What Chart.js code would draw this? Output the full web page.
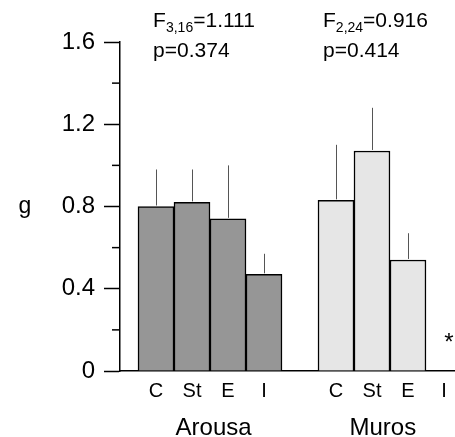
<!DOCTYPE html>
<html>
<head>
<meta charset="utf-8">
<script src="https://cdn.jsdelivr.net/npm/chart.js@4/dist/chart.umd.min.js"></script>
<style>
    html, body { margin: 0; padding: 0; background: #fff; }
</style>
</head>
<body>
<canvas id="chart" width="455" height="437"></canvas>
<script>
// Dati del grafico
const categories = ['C', 'St', 'E', 'I'];
const arousaX = [0, 1, 2, 3];
const murosX = [5, 6, 7, 8];
const arousaMean = [0.80, 0.82, 0.74, 0.47];
const arousaSE = [0.18, 0.16, 0.26, 0.10];
const murosMean = [0.83, 1.07, 0.54, null];
const murosSE = [0.27, 0.21, 0.13, null];
const yTicks = [0, 0.2, 0.4, 0.6, 0.8, 1.0, 1.2, 1.4, 1.6];
const yMajor = [0, 0.4, 0.8, 1.2, 1.6];
const xTicks = [-1, 0, 1, 2, 3, 4, 5, 6, 7, 8];

// Testi
const groupNames = ['Arousa', 'Muros'];
const groupX = [1.6, 6.3];
const statSub = ['3,16', '2,24'];
const statF = ['=1.111', '=0.916'];
const statP = ['p=0.374', 'p=0.414'];
const statX = [-0.08, 4.64];
const starX = 8.14;

const FONT = '"Liberation Sans", Arial, sans-serif';

function isMajor(v) {
    return yMajor.some(m => Math.abs(m - v) < 1e-6);
}

// Etichette asse x
function xLabel(v) {
    let i = arousaX.indexOf(v);
    if (i >= 0) return categories[i];
    i = murosX.indexOf(v);
    if (i >= 0) return categories[i];
    return '';
}

// Plugin per barre d'errore, tacche minori e testi
const extrasPlugin = {
    id: 'extras',
    afterDatasetsDraw(chart) {
        const ctx = chart.ctx;
        const xs = chart.scales.x;
        const ys = chart.scales.y;
        const area = chart.chartArea;
        const seList = [arousaSE, murosSE];
        const meanList = [arousaMean, murosMean];

        ctx.save();
        // Barre d'errore
        ctx.strokeStyle = '#555';
        ctx.lineWidth = 1;
        chart.data.datasets.forEach((ds, di) => {
            const meta = chart.getDatasetMeta(di);
            meta.data.forEach((bar, i) => {
                const m = meanList[di][i];
                const se = seList[di][i];
                if (m === null || se === null) return;
                const top = ys.getPixelForValue(m + se);
                ctx.beginPath();
                ctx.moveTo(Math.round(bar.x) + 0.5, bar.y - 1);
                ctx.lineTo(Math.round(bar.x) + 0.5, top);
                ctx.stroke();
            });
        });

        // Tacche minori asse y
        ctx.strokeStyle = '#000';
        ctx.lineWidth = 1.5;
        yTicks.filter(v => !isMajor(v)).forEach(v => {
            const y = ys.getPixelForValue(v);
            ctx.beginPath();
            ctx.moveTo(area.left - 8, y);
            ctx.lineTo(area.left, y);
            ctx.stroke();
        });

        ctx.fillStyle = '#000';
        // Nome asse y
        ctx.font = '23px ' + FONT;
        ctx.textAlign = 'center';
        ctx.textBaseline = 'middle';
        ctx.fillText('g', 25, ys.getPixelForValue(0.8));

        // Nomi dei gruppi
        ctx.font = '24px ' + FONT;
        ctx.textBaseline = 'alphabetic';
        groupNames.forEach((name, i) => {
            ctx.fillText(name, xs.getPixelForValue(groupX[i]), area.bottom + 64);
        });

        // Statistiche F e p
        ctx.textAlign = 'left';
        statF.forEach((txt, i) => {
            let x = xs.getPixelForValue(statX[i]);
            const yF = area.top - 15;
            ctx.font = '21px ' + FONT;
            ctx.fillText('F', x, yF);
            x += ctx.measureText('F').width;
            ctx.font = '14px ' + FONT;
            ctx.fillText(statSub[i], x, yF + 5);
            x += ctx.measureText(statSub[i]).width;
            ctx.font = '21px ' + FONT;
            ctx.fillText(txt, x, yF);
            ctx.fillText(statP[i], xs.getPixelForValue(statX[i]), area.top + 15);
        });

        // Asterisco
        ctx.font = '24px ' + FONT;
        ctx.textAlign = 'center';
        ctx.fillText('*', xs.getPixelForValue(starX), ys.getPixelForValue(0) - 21);
        ctx.restore();
    }
};

const chart = new Chart(document.getElementById('chart'), {
    type: 'bar',
    data: {
        datasets: [{
            label: 'Arousa',
            data: arousaX.map((x, i) => ({ x: x, y: arousaMean[i] })),
            backgroundColor: '#969696',
            borderColor: '#000',
            borderWidth: 1.5,
            grouped: false,
            barPercentage: 1,
            categoryPercentage: 1
        }, {
            label: 'Muros',
            data: murosX.map((x, i) => ({ x: x, y: murosMean[i] })),
            backgroundColor: '#e6e6e6',
            borderColor: '#000',
            borderWidth: 1.5,
            grouped: false,
            barPercentage: 1,
            categoryPercentage: 1
        }]
    },
    options: {
        responsive: false,
        animation: false,
        layout: { padding: { top: 42, right: 0, left: 0, bottom: 0 } },
        plugins: {
            legend: { display: false },
            tooltip: { enabled: false }
        },
        scales: {
            x: {
                type: 'linear',
                offset: false,
                min: -1,
                max: 8.306,
                afterFit: s => { s.height = 66; },
                afterBuildTicks: s => { s.ticks = xTicks.map(v => ({ value: v })); },
                grid: { offset: false, drawOnChartArea: false, drawTicks: false },
                border: { color: '#000', width: 1.5 },
                ticks: {
                    color: '#000',
                    padding: 8,
                    maxRotation: 0,
                    autoSkip: false,
                    font: { family: FONT, size: 20 },
                    callback: v => xLabel(v)
                }
            },
            y: {
                min: 0,
                max: 1.6,
                afterFit: s => { s.width = 120; },
                afterBuildTicks: s => { s.ticks = yTicks.map(v => ({ value: v })); },
                grid: {
                    drawOnChartArea: false,
                    tickLength: 16,
                    tickWidth: 1.5,
                    tickColor: c => (c.tick && isMajor(c.tick.value)) ? '#000' : 'rgba(0,0,0,0)'
                },
                border: { color: '#000', width: 1.5 },
                ticks: {
                    color: '#000',
                    padding: 9,
                    autoSkip: false,
                    font: { family: FONT, size: 24 },
                    callback: v => isMajor(v) ? (v === 0 ? '0' : v.toFixed(1)) : ''
                }
            }
        }
    },
    plugins: [extrasPlugin]
});
</script>
</body>
</html>
